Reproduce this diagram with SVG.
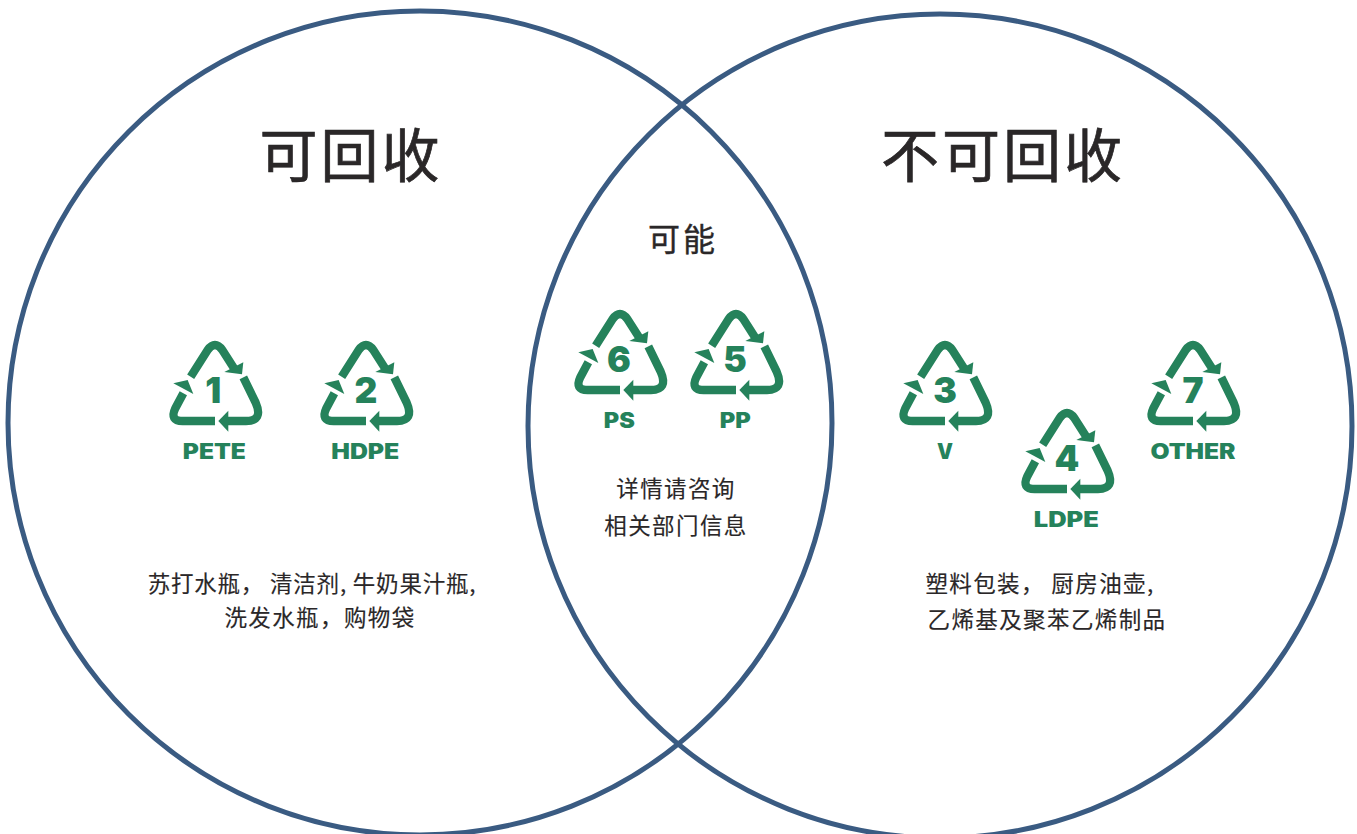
<svg xmlns="http://www.w3.org/2000/svg" width="1357" height="834" viewBox="0 0 1357 834">
<style>
.c{fill:none;stroke:#3a5b82;stroke-width:5}
.t{font-family:"Noto Sans CJK SC","Noto Sans CJK JP",sans-serif;fill:#2a2728;text-anchor:middle}
.h{font-size:58px;font-weight:400;letter-spacing:3px;stroke:#2a2728;stroke-width:.7px}
.m{font-size:32px;font-weight:400;letter-spacing:3px;stroke:#2a2728;stroke-width:.4px}
.b{font-size:22.5px;font-weight:400;letter-spacing:1.4px;stroke:#2a2728;stroke-width:.15px}
.n{font-family:Inter,"Liberation Sans",sans-serif;font-weight:900;fill:#25825b;text-anchor:middle}
.d{font-size:106px}
.l{font-size:63px}
.a{fill:none;stroke:#25825b;stroke-width:25;stroke-linejoin:round}
.p{fill:#25825b}
</style>
<defs>
<g id="tri">
<path class="a" d="M92,140 L143,60 Q165,30 187,60 L222,115"/>
<polygon class="p" points="250,97 193,126 246,133"/>
<path class="a" d="M165,273 L68,273 Q28,273 46,235 L70,190"/>
<polygon class="p" points="40,160 83,150 100,192"/>
<path class="a" d="M250,142 L287,218 Q311,273 258,273 L200,273"/>
<polygon class="p" points="205,242 175,273 205,305"/>
</g>
</defs>
<g id="connectors">
<circle class="c" cx="420" cy="423" r="412"/>
<circle class="c" cx="940" cy="426" r="412"/>
</g>
<g id="title-left"><text class="t h" x="351" y="177">可回收</text></g>
<g id="title-right"><text class="t h" x="1003" y="177">不可回收</text></g>
<g id="title-mid"><text class="t m" x="683" y="251">可能</text></g>
<g id="n1" transform="translate(160,330) scale(.3333)"><use href="#tri"/><text class="n d" x="160" y="220">1</text><text class="n l" x="163" y="387" textLength="189" lengthAdjust="spacingAndGlyphs">PETE</text></g>
<g id="n2" transform="translate(311,330) scale(.3333)"><use href="#tri"/><text class="n d" x="165" y="220">2</text><text class="n l" x="163" y="387" textLength="204" lengthAdjust="spacingAndGlyphs">HDPE</text></g>
<g id="n6" transform="translate(565,299) scale(.3333)"><use href="#tri"/><text class="n d" x="162" y="220">6</text><text class="n l" x="163" y="387" textLength="93" lengthAdjust="spacingAndGlyphs">PS</text></g>
<g id="n5" transform="translate(681,299) scale(.3333)"><use href="#tri"/><text class="n d" x="162" y="220">5</text><text class="n l" x="163" y="387" textLength="93" lengthAdjust="spacingAndGlyphs">PP</text></g>
<g id="n3" transform="translate(890,330) scale(.3333)"><use href="#tri"/><text class="n d" x="165" y="220">3</text><text class="n l" x="165" y="387" textLength="48" lengthAdjust="spacingAndGlyphs">V</text></g>
<g id="n4" transform="translate(1012,398) scale(.3333)"><use href="#tri"/><text class="n d" x="165" y="220">4</text><text class="n l" x="163" y="387" textLength="195" lengthAdjust="spacingAndGlyphs">LDPE</text></g>
<g id="n7" transform="translate(1138,330) scale(.3333)"><use href="#tri"/><text class="n d" x="165" y="220">7</text><text class="n l" x="165" y="387" textLength="255" lengthAdjust="spacingAndGlyphs">OTHER</text></g>
<g id="txt-left"><text class="t b" x="312" y="592" style="letter-spacing:.8px">苏打水瓶， 清洁剂, 牛奶果汁瓶,</text><text class="t b" x="320" y="626">洗发水瓶，购物袋</text></g>
<g id="txt-mid"><text class="t b" x="676" y="497">详情请咨询</text><text class="t b" x="676" y="534">相关部门信息</text></g>
<g id="txt-right"><text class="t b" x="1040" y="592">塑料包装， 厨房油壶,</text><text class="t b" x="1047" y="628">乙烯基及聚苯乙烯制品</text></g>
</svg>
